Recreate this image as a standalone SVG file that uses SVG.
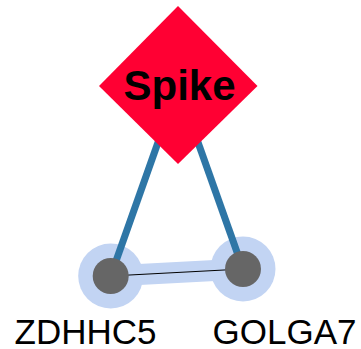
<svg xmlns="http://www.w3.org/2000/svg" width="361" height="349" viewBox="0 0 361 349">
<style>
.edge{stroke:#2e76a6;stroke-width:7;fill:none}
.halo{fill:#c2d4f3}
.node{fill:#666666}
.lbl{font-family:"Liberation Sans",Arial,sans-serif;font-size:35px;fill:#000;text-anchor:middle}
</style>
<rect width="361" height="349" fill="#fff"/>
<g id="halos">
<line x1="110.7" y1="276" x2="243" y2="269" stroke="#c2d4f3" stroke-width="21"/>
<circle class="halo" cx="110.7" cy="276" r="32.5"/>
<circle class="halo" cx="243" cy="269" r="32.5"/>
</g>
<g id="connectors">
<line class="edge" x1="178" y1="86" x2="110.7" y2="276"/>
<line class="edge" x1="178" y1="86" x2="243" y2="269"/>
<line x1="110.7" y1="276" x2="243" y2="269" stroke="#000" stroke-width="1"/>
</g>
<g id="Spike">
<polygon points="178,6 257.5,86 178,164 99,86" fill="#ff0033"/>
<text x="179.5" y="99.5" font-family="'Liberation Sans',Arial,sans-serif" font-size="42" font-weight="bold" text-anchor="middle" fill="#000">Spike</text>
</g>
<g id="ZDHHC5">
<circle class="node" cx="110.7" cy="276" r="18"/>
<text class="lbl" x="85.5" y="344">ZDHHC5</text>
</g>
<g id="GOLGA7">
<circle class="node" cx="243" cy="269" r="18"/>
<text class="lbl" x="284.5" y="344">GOLGA7</text>
</g>
</svg>
